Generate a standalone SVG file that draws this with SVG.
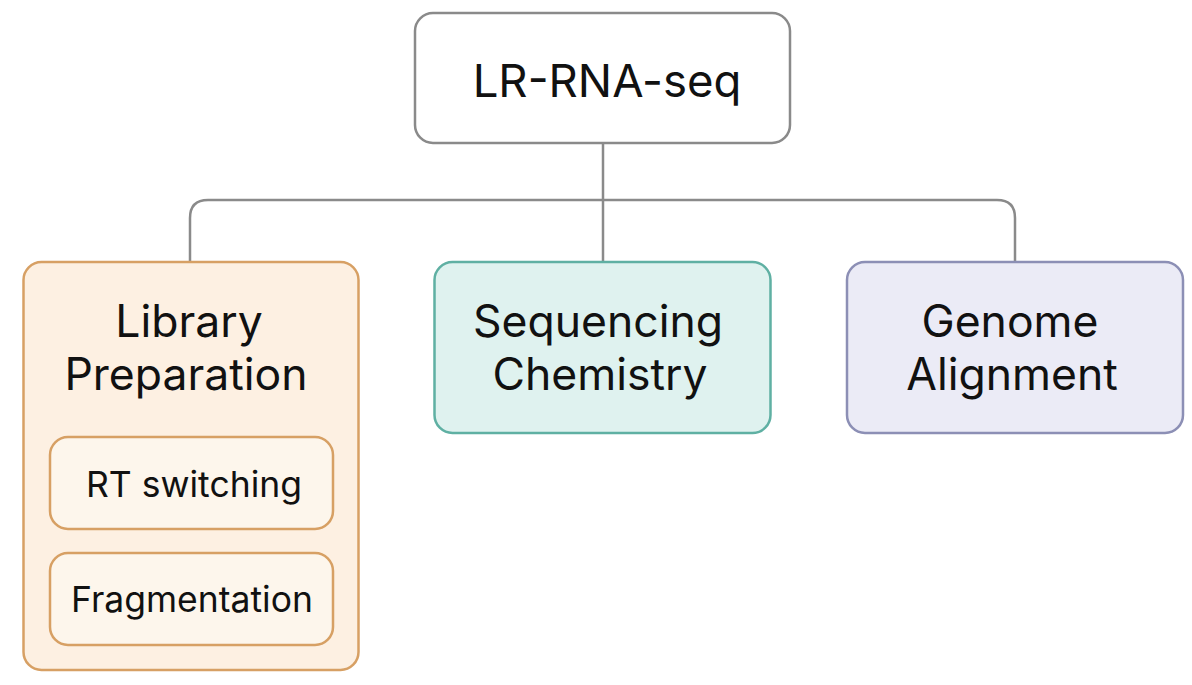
<svg xmlns="http://www.w3.org/2000/svg" width="1192" height="685" viewBox="0 0 1192 685">
<style>
text{font-family:Inter,"Liberation Sans",sans-serif;fill:#111;text-anchor:middle}
.big{font-size:44.5px}
.small{font-size:35.5px}
.conn{fill:none;stroke:#8a8a8a;stroke-width:2.5}
</style>
<rect width="1192" height="685" fill="#ffffff"/>
<g id="connectors">
<path class="conn" d="M603 143 V262"/>
<path class="conn" d="M190 262 V218 Q190 200 208 200 H997 Q1015 200 1015 218 V262"/>
</g>
<g id="root">
<rect x="415" y="13" width="375" height="130" rx="18" fill="#ffffff" stroke="#8a8a8a" stroke-width="2.5"/>
<text x="607" y="97" style="font-size:45.5px">LR-RNA-seq</text>
</g>
<g id="library">
<rect x="23.5" y="262" width="335" height="408" rx="18" fill="#fdf0e2" stroke="#d7a064" stroke-width="2.5"/>
<text class="big" x="189" y="337">Library</text>
<text class="big" x="186" y="390">Preparation</text>
</g>
<g id="rt">
<rect x="50" y="437" width="283" height="92" rx="18" fill="#fdf6ec" stroke="#d7a064" stroke-width="2.5"/>
<text class="small" x="194" y="497">RT switching</text>
</g>
<g id="frag">
<rect x="50" y="553" width="283" height="92" rx="18" fill="#fdf6ec" stroke="#d7a064" stroke-width="2.5"/>
<text class="small" x="192" y="612">Fragmentation</text>
</g>
<g id="seq">
<rect x="434.5" y="262" width="336" height="171" rx="18" fill="#dff2ef" stroke="#5fb0a3" stroke-width="2.5"/>
<text class="big" x="598" y="337">Sequencing</text>
<text class="big" x="600" y="390">Chemistry</text>
</g>
<g id="genome">
<rect x="847" y="262" width="336" height="171" rx="18" fill="#ebebf6" stroke="#8c8fb5" stroke-width="2.5"/>
<text class="big" x="1010" y="337">Genome</text>
<text class="big" x="1012" y="390">Alignment</text>
</g>
</svg>
